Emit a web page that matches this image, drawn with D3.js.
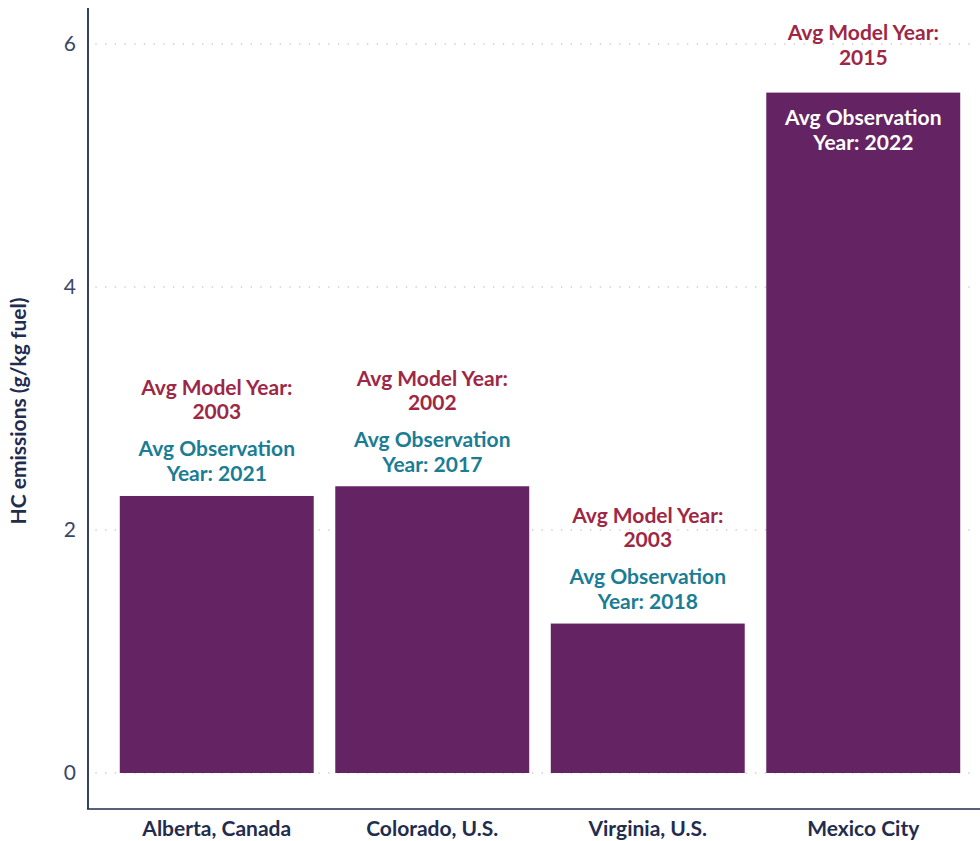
<!DOCTYPE html>
<html>
<head>
<meta charset="utf-8">
<script src="https://cdn.jsdelivr.net/npm/d3@7"></script>
<style>
  body { margin: 0; background: #fff; }
  svg text { font-family: Lato, "Open Sans", sans-serif; }
</style>
</head>
<body>
<div id="chart"></div>
<script>
// HC emissions by location
const regions = ["Alberta, Canada", "Colorado, U.S.", "Virginia, U.S.", "Mexico City"];
const hcValues = [2.28, 2.36, 1.23, 5.60];
const modelYears = ["2003", "2002", "2003", "2015"];
const obsYears = ["2021", "2017", "2018", "2022"];
const yTicks = [0, 2, 4, 6];

const w = 980, h = 841;
const navy = "#1f2d4e";
const barColor = "#642463";
const modelColor = "#9e2745";
const obsColor = "#1a7d94";

const svg = d3.select("#chart").append("svg")
    .attr("width", w)
    .attr("height", h);

const xScale = d3.scaleBand()
    .domain(regions)
    .range([109, 971])
    .paddingInner(0.1)
    .paddingOuter(0.05);

const yScale = d3.scaleLinear()
    .domain([0, 6])
    .range([773, 44]);

// dotted gridlines
svg.append("g")
    .selectAll("line")
    .data(yTicks)
    .enter()
    .append("line")
    .attr("x1", 96)
    .attr("x2", 972)
    .attr("y1", d => yScale(d))
    .attr("y2", d => yScale(d))
    .attr("stroke", "#c8c8c8")
    .attr("stroke-width", 1.6)
    .attr("stroke-linecap", "round")
    .attr("stroke-dasharray", "0.1 9.6");

// y tick labels
svg.append("g")
    .selectAll("text")
    .data(yTicks)
    .enter()
    .append("text")
    .attr("x", 76)
    .attr("y", d => yScale(d))
    .attr("dy", "0.35em")
    .attr("text-anchor", "end")
    .attr("fill", "#3b4666")
    .style("font-size", "21px")
    .text(d => d);

// bars
svg.append("g")
    .selectAll("rect")
    .data(regions)
    .enter()
    .append("rect")
    .attr("x", d => xScale(d))
    .attr("width", xScale.bandwidth())
    .attr("y", (d, i) => yScale(hcValues[i]))
    .attr("height", (d, i) => yScale(0) - yScale(hcValues[i]))
    .attr("fill", barColor);

// axes lines
svg.append("line")
    .attr("x1", 88).attr("x2", 88)
    .attr("y1", 8).attr("y2", 809)
    .attr("stroke", navy).attr("stroke-width", 1.8);
svg.append("line")
    .attr("x1", 87).attr("x2", 980)
    .attr("y1", 809).attr("y2", 809)
    .attr("stroke", navy).attr("stroke-width", 1.5);

// x labels
svg.append("g")
    .selectAll("text")
    .data(regions)
    .enter()
    .append("text")
    .attr("x", d => xScale(d) + xScale.bandwidth() / 2)
    .attr("y", 836)
    .attr("text-anchor", "middle")
    .attr("fill", navy)
    .style("font-size", "21px")
    .style("font-weight", "bold")
    .text(d => d);

// y title
svg.append("text")
    .attr("transform", "translate(26,411) rotate(-90)")
    .attr("text-anchor", "middle")
    .attr("fill", navy)
    .style("font-size", "21px")
    .style("font-weight", "bold")
    .text("HC emissions (g/kg fuel)");

// annotations
const notes = svg.append("g");
regions.forEach(function(r, i) {
    const cx = xScale(r) + xScale.bandwidth() / 2;
    const top = yScale(hcValues[i]);
    const inside = top < 150;
    let lines;
    if (inside) {
        lines = [
            {t: "Avg Model Year:", y: top - 60, c: modelColor},
            {t: modelYears[i], y: top - 35, c: modelColor},
            {t: "Avg Observation", y: top + 25, c: "#ffffff"},
            {t: "Year: " + obsYears[i], y: top + 50, c: "#ffffff"}
        ];
    } else {
        lines = [
            {t: "Avg Model Year:", y: top - 108, c: modelColor},
            {t: modelYears[i], y: top - 84, c: modelColor},
            {t: "Avg Observation", y: top - 47, c: obsColor},
            {t: "Year: " + obsYears[i], y: top - 22, c: obsColor}
        ];
    }
    notes.selectAll(null)
        .data(lines)
        .enter()
        .append("text")
        .attr("x", cx)
        .attr("y", d => d.y)
        .attr("dy", "0.35em")
        .attr("text-anchor", "middle")
        .attr("fill", d => d.c)
        .style("font-size", "21px")
        .style("font-weight", "bold")
        .text(d => d.t);
});
</script>
</body>
</html>
